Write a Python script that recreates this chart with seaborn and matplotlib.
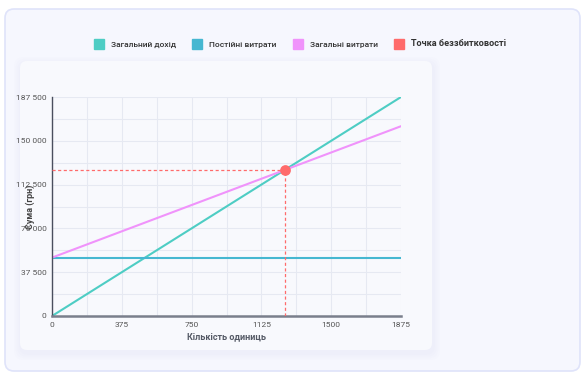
import pandas as pd
import seaborn as sns
import matplotlib.pyplot as plt
import matplotlib.ticker as mticker
from matplotlib.patches import FancyBboxPatch
from matplotlib.lines import Line2D

# data
units = [0, 375, 750, 1125, 1500, 1875]
revenue = [0, 37500, 75000, 112500, 150000, 187500]
fixed_costs = [50000, 50000, 50000, 50000, 50000, 50000]
total_costs = [50000, 72500, 95000, 117500, 140000, 162500]
break_even_units = 1250
break_even_sum = 125000

series_names = ["Загальний дохід", "Постійні витрати", "Загальні витрати"]
point_name = "Точка беззбитковості"
colors = ["#4ecdc4", "#45b7d1", "#f093fb"]
point_color = "#ff6b6b"

df = pd.DataFrame({
    "units": units * 3,
    "value": revenue + fixed_costs + total_costs,
    "series": [series_names[0]] * 6 + [series_names[1]] * 6 + [series_names[2]] * 6,
})

sns.set_theme(style="white")
plt.rcParams["font.family"] = ["Roboto", "DejaVu Sans"]

fig = plt.figure(figsize=(5.86, 3.75), dpi=100)
fig.patch.set_facecolor("white")

# background in pixel coords
bg = fig.add_axes([0, 0, 1, 1], zorder=-10)
bg.set_xlim(0, 586)
bg.set_ylim(375, 0)
bg.axis("off")
bg.add_patch(FancyBboxPatch((5, 9), 575, 362, boxstyle="round,pad=0,rounding_size=9",
                            fc="#f6f7fe", ec="#dfe3fa", lw=1.2))
for i, a in enumerate([0.012, 0.012, 0.012, 0.012]):
    off = 7 - i * 1.7
    bg.add_patch(FancyBboxPatch((20 - off + 1, 61 - off + 3), 412 + 2 * off, 289 + 2 * off,
                                boxstyle="round,pad=0,rounding_size=9",
                                fc="#8890b0", ec="none", alpha=a))
bg.add_patch(FancyBboxPatch((20, 61), 412, 289, boxstyle="round,pad=0,rounding_size=7",
                            fc="#f8f9fd", ec="none"))

ax = fig.add_axes([52 / 586, 59 / 375, 349 / 586, 219 / 375])
ax.set_facecolor("none")

sns.lineplot(data=df, x="units", y="value", hue="series", palette=colors,
             linewidth=1.5, ax=ax, legend=False)

ax.plot([0, break_even_units], [break_even_sum, break_even_sum],
        ls=(0, (2.5, 2)), color=point_color, lw=0.9, zorder=3)
ax.plot([break_even_units, break_even_units], [0, break_even_sum],
        ls=(0, (2.5, 2)), color=point_color, lw=0.9, zorder=3)
ax.scatter([break_even_units], [break_even_sum], s=45, color=point_color, zorder=5)

ax.set_xlim(0, 1875)
ax.set_ylim(0, 187500)
ax.xaxis.set_major_locator(mticker.MultipleLocator(375))
ax.xaxis.set_minor_locator(mticker.MultipleLocator(187.5))
ax.yaxis.set_major_locator(mticker.MultipleLocator(37500))
ax.yaxis.set_minor_locator(mticker.MultipleLocator(18750))
ax.yaxis.set_major_formatter(mticker.FuncFormatter(lambda v, p: f"{int(v):,}".replace(",", " ")))
ax.grid(True, which="both", color="#e6e9f2", lw=0.8)
ax.tick_params(axis="both", which="both", length=0, labelsize=6, labelcolor="#555", pad=4)

for s in ["top", "right"]:
    ax.spines[s].set_visible(False)
ax.spines["left"].set_color("#4a4f5e")
ax.spines["left"].set_linewidth(1.0)
ax.spines["bottom"].set_color("#7a7f8c")
ax.spines["bottom"].set_linewidth(1.8)

ax.set_xlabel("Кількість одиниць", fontsize=6.5, fontweight="bold", color="#555a66", labelpad=3)
ax.set_ylabel("Сума (грн)", fontsize=6.5, fontweight="bold", color="#444", labelpad=0)
ax.yaxis.set_label_coords(-0.05, 0.5)

handles = [Line2D([], [], ls="none", marker="s", markersize=7, color=c) for c in colors]
handles.append(Line2D([], [], ls="none", marker="s", markersize=7, color=point_color))
leg = fig.legend(handles, series_names + [point_name], loc="center", ncol=4,
                 bbox_to_anchor=(0.509, 1 - 44 / 375), frameon=False,
                 fontsize=6, handletextpad=0.4, columnspacing=1.6)
for t in leg.get_texts():
    t.set_color("#333")
    t.set_fontweight("medium")
leg.get_texts()[-1].set_fontsize(6.6)
leg.get_texts()[-1].set_fontweight("bold")

fig.savefig("out.png", dpi=100)
